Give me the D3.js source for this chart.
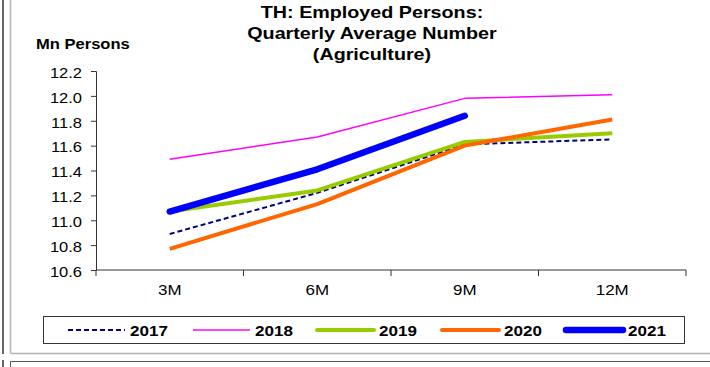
<!DOCTYPE html>
<html>
<head>
<meta charset="utf-8">
<script src="https://cdn.jsdelivr.net/npm/d3@7/dist/d3.min.js"></script>
<style>
  html, body { margin: 0; padding: 0; background: #fff; }
  svg { display: block; font-family: "Liberation Sans", Arial, sans-serif; }
</style>
</head>
<body>
<svg id="chart" width="710" height="367"></svg>
<script>
// Quarterly average number of employed persons in agriculture (million)
const categories = ["3M", "6M", "9M", "12M"];
const years = ["2017", "2018", "2019", "2020", "2021"];
const v2017 = [10.89, 11.22, 11.61, 11.65];
const v2018 = [11.49, 11.67, 11.98, 12.01];
const v2019 = [11.07, 11.24, 11.63, 11.70];
const v2020 = [10.77, 11.13, 11.60, 11.81];
const v2021 = [11.07, 11.41, 11.84];
const yTicks = [10.6, 10.8, 11.0, 11.2, 11.4, 11.6, 11.8, 12.0, 12.2];

const seriesValues = [v2017, v2018, v2019, v2020, v2021];
const styles = {
  "2017": { color: "#000080", width: 2, dash: "5,3" },
  "2018": { color: "#FF00FF", width: 1.5, dash: null },
  "2019": { color: "#99CC00", width: 4, dash: null },
  "2020": { color: "#FF6600", width: 4, dash: null },
  "2021": { color: "#0000FF", width: 6.5, dash: null }
};

const svg = d3.select("#chart");

// horizontally widened text placed at (x, y)
function wideText(parent, x, y, txt, size, stretch, weight, anchor) {
  return parent.append("text")
    .attr("transform", `translate(${x},${y}) scale(${stretch},1)`)
    .attr("text-anchor", anchor || "start")
    .attr("font-size", size)
    .attr("font-weight", weight || "normal")
    .attr("fill", "#000")
    .text(txt);
}

// outer panel frame
svg.append("line").attr("x1", 3).attr("x2", 3).attr("y1", 0).attr("y2", 354)
  .attr("stroke", "#000").attr("stroke-width", 1.2);
svg.append("line").attr("x1", 3).attr("x2", 3).attr("y1", 360).attr("y2", 367)
  .attr("stroke", "#000").attr("stroke-width", 1.2);
svg.append("line").attr("x1", 10.5).attr("x2", 10.5).attr("y1", 0).attr("y2", 353.5)
  .attr("stroke", "#b4b4b4").attr("stroke-width", 1.5);
svg.append("line").attr("x1", 10.5).attr("x2", 710).attr("y1", 353.5).attr("y2", 353.5)
  .attr("stroke", "#b4b4b4").attr("stroke-width", 1.5);
svg.append("line").attr("x1", 10.5).attr("x2", 710).attr("y1", 361.5).attr("y2", 361.5)
  .attr("stroke", "#555").attr("stroke-width", 1);
svg.append("line").attr("x1", 10.5).attr("x2", 10.5).attr("y1", 361.5).attr("y2", 367)
  .attr("stroke", "#555").attr("stroke-width", 1);

const plot = { left: 96, right: 686, top: 71, bottom: 270 };

const x = d3.scaleBand().domain(categories).range([plot.left, plot.right]).padding(0);
const y = d3.scaleLinear().domain([10.6, 12.2]).range([plot.bottom, plot.top]);

// y axis
const tickStretch = 1.18;
const yAxis = svg.append("g").attr("transform", `translate(${plot.left},0)`)
  .call(d3.axisLeft(y).tickValues(yTicks).tickFormat(d3.format(".1f")).tickSizeOuter(0).tickSize(5));
yAxis.select(".domain").attr("stroke", "#333");
yAxis.selectAll(".tick line").attr("stroke", "#333");
yAxis.selectAll(".tick text")
  .attr("font-size", 14).attr("fill", "#000")
  .attr("font-family", "Liberation Sans, Arial, sans-serif")
  .attr("x", -14 / tickStretch).attr("dy", "0.45em")
  .attr("transform", `scale(${tickStretch},1)`);

// x axis with ticks at category boundaries
const xAxis = svg.append("g").attr("transform", `translate(0,${plot.bottom})`);
xAxis.append("line").attr("x1", plot.left).attr("x2", plot.right)
  .attr("stroke", "#333");
const boundaries = categories.map(c => x(c)).concat([plot.right]);
xAxis.selectAll(".bt").data(boundaries).join("line")
  .attr("x1", d => d).attr("x2", d => d).attr("y1", 0).attr("y2", 6)
  .attr("stroke", "#333");
categories.forEach(c => {
  wideText(xAxis, x(c) + x.bandwidth() / 2, 25, c, 15, 1.13, "normal", "middle");
});

// series lines
const line = d3.line()
  .x((d, i) => x(categories[i]) + x.bandwidth() / 2)
  .y(d => y(d));

years.forEach((yr, k) => {
  const s = styles[yr];
  svg.append("path").datum(seriesValues[k])
    .attr("d", line).attr("fill", "none")
    .attr("stroke", s.color).attr("stroke-width", s.width)
    .attr("stroke-dasharray", s.dash)
    .attr("stroke-linecap", yr === "2021" ? "round" : "butt")
    .attr("stroke-linejoin", "round");
});

// titles
["TH: Employed Persons:", "Quarterly Average Number", "(Agriculture)"].forEach((t, i) => {
  wideText(svg, 372, 18 + i * 21, t, 17, 1.16, "bold", "middle");
});
wideText(svg, 36, 49, "Mn Persons", 14.4, 1.15, "bold", "start");

// legend
svg.append("rect").attr("x", 43.5).attr("y", 316.5).attr("width", 641).attr("height", 27)
  .attr("fill", "#fff").attr("stroke", "#333").attr("stroke-width", 1);
const legendX = [68, 193, 317, 442, 566];
years.forEach((yr, k) => {
  const s = styles[yr];
  const g = svg.append("g").attr("transform", `translate(${legendX[k]},330)`);
  g.append("line").attr("x1", 0).attr("x2", 57).attr("y1", 0).attr("y2", 0)
    .attr("stroke", s.color).attr("stroke-width", s.width)
    .attr("stroke-dasharray", s.dash)
    .attr("stroke-linecap", (yr === "2019" || yr === "2020" || yr === "2021") ? "round" : "butt");
  wideText(g, 62, 6, yr, 15.5, 1.1, "bold", "start");
});
</script>
</body>
</html>
